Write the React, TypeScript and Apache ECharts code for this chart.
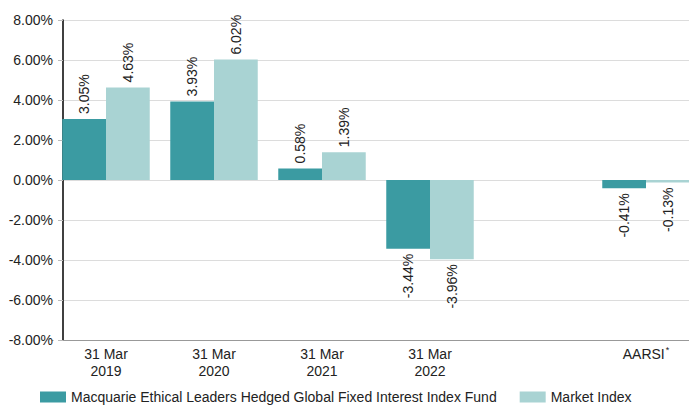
import React, { useEffect, useRef } from "react";
import * as echarts from "echarts";

const categories = ["31 Mar\n2019", "31 Mar\n2020", "31 Mar\n2021", "31 Mar\n2022", "", "AARSI*"];
const fundName = "Macquarie Ethical Leaders Hedged Global Fixed Interest Index Fund";
const indexName = "Market Index";
const fundValues: (number | null)[] = [3.05, 3.93, 0.58, -3.44, null, -0.41];
const indexValues: (number | null)[] = [4.63, 6.02, 1.39, -3.96, null, -0.13];

const FONT = "'Liberation Sans', Arial, sans-serif";
const FS = 14;

function withLabels(vals: (number | null)[]) {
  return vals.map((v) => {
    if (v === null) return null;
    const neg = v < 0;
    return {
      value: v,
      label: {
        show: true,
        position: neg ? "bottom" : "top",
        rotate: 90,
        align: neg ? "right" : "left",
        verticalAlign: "middle",
        distance: 5,
        formatter: (p: any) => p.value.toFixed(2) + "%",
        color: "#222",
        fontSize: FS,
        fontFamily: FONT,
      },
    };
  });
}

export default function App() {
  const ref = useRef<HTMLDivElement>(null);
  useEffect(() => {
    if (!ref.current) return;
    const chart = echarts.init(ref.current, null, { renderer: "svg" });
    chart.setOption({
      animation: false,
      textStyle: { fontFamily: FONT },
      grid: { left: 52, width: 648, top: 20, height: 320, containLabel: false, outerBoundsMode: "none" },
      legend: {
        left: 35,
        top: 385,
        itemWidth: 26,
        itemHeight: 11,
        itemGap: 23,
        icon: "rect",
        textStyle: { fontSize: FS, color: "#222", fontFamily: FONT },
        data: [fundName, indexName],
      },
      xAxis: {
        type: "category",
        data: categories,
        position: "bottom",
        axisLine: { show: true, onZero: false, lineStyle: { color: "#999", width: 1 } },
        axisTick: { show: false },
        axisLabel: {
          color: "#222",
          fontSize: FS,
          lineHeight: 17,
          margin: 5,
          fontFamily: FONT,
          interval: 0,
          formatter: (v: string) => (v.endsWith("*") ? "{a|" + v.slice(0, -1) + "}{s|*}" : v),
          rich: {
            a: { fontSize: FS, color: "#222", fontFamily: FONT, lineHeight: 17 },
            s: { fontSize: 9, color: "#222", fontFamily: FONT, verticalAlign: "top", lineHeight: 17, padding: [0, 0, 4, 1] },
          },
        },
      },
      yAxis: {
        type: "value",
        min: -8,
        max: 8,
        interval: 2,
        offset: -11,
        axisLine: { show: true, lineStyle: { color: "#000", width: 1.5 } },
        axisTick: { show: true, length: 5, lineStyle: { color: "#bbb" } },
        axisLabel: {
          color: "#222",
          fontSize: FS,
          margin: 10,
          fontFamily: FONT,
          formatter: (v: number) => v.toFixed(2) + "%",
        },
        splitLine: { show: true, lineStyle: { color: "#dcdcdc", width: 1 } },
      },
      graphic: [
        {
          type: "rect",
          z: 100,
          shape: { x: 53.5, y: 10, width: 4.5, height: 340 },
          style: { fill: "#fff" },
        },
      ],
      series: [
        {
          name: fundName,
          type: "bar",
          data: withLabels(fundValues),
          itemStyle: { color: "#3b9ba2" },
          barGap: "0%",
          barCategoryGap: "19%",
        },
        {
          name: indexName,
          type: "bar",
          data: withLabels(indexValues),
          itemStyle: { color: "#a9d3d3" },
          barGap: "0%",
          barCategoryGap: "19%",
        },
      ],
    });
    return () => chart.dispose();
  }, []);
  return <div ref={ref} style={{ width: 689, height: 405, position: "absolute", left: 0, top: 0 }} />;
}
